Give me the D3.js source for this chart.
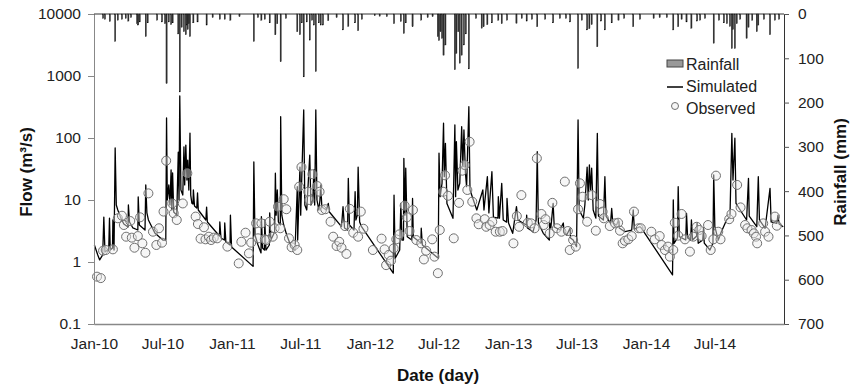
<!DOCTYPE html>
<html><head><meta charset="utf-8">
<script src="https://cdn.jsdelivr.net/npm/d3@7"></script>
<style>body{margin:0;background:#fff} text{font-family:"Liberation Sans",Arial,sans-serif}</style>
</head><body><svg id="c" width="857" height="387"></svg>
<script>
const xTickDates = ["2010-01-01","2010-07-01","2011-01-01","2011-07-01","2012-01-01","2012-07-01","2013-01-01","2013-07-01","2014-01-01","2014-07-01"];
const xTickLabels = ["Jan-10","Jul-10","Jan-11","Jul-11","Jan-12","Jul-12","Jan-13","Jul-13","Jan-14","Jul-14"];
const flowTicks = [0.1,1,10,100,1000,10000];
const rainTicks = [0,100,200,300,400,500,600,700];

const rainfall = [
["2010-01-25",10],["2010-01-30",12],["2010-02-12",17],["2010-02-26",62],["2010-03-05",14],["2010-03-16",12],["2010-03-26",10],["2010-04-02",16],["2010-04-09",8],["2010-04-25",22],["2010-04-28",25],["2010-05-02",18],["2010-05-18",51],["2010-05-23",20],["2010-06-17",14],["2010-06-30",18],["2010-07-08",22],["2010-07-12",157],["2010-07-18",18],["2010-07-24",24],["2010-07-28",20],["2010-08-12",45],["2010-08-16",176],["2010-08-21",30],["2010-08-27",40],["2010-09-01",47],["2010-09-04",25],["2010-09-06",35],["2010-09-09",22],["2010-09-12",51],["2010-09-21",20],["2010-10-02",18],["2010-10-26",25],["2010-11-11",8],["2010-11-30",12],["2010-12-13",12],["2010-12-28",14],
["2011-01-21",6],["2011-02-28",62],["2011-03-11",8],["2011-03-20",14],["2011-03-29",12],["2011-04-11",20],["2011-04-26",47],["2011-05-01",22],["2011-05-10",108],["2011-05-24",10],["2011-06-23",40],["2011-06-30",47],["2011-07-05",20],["2011-07-10",142],["2011-07-18",18],["2011-07-26",59],["2011-08-01",14],["2011-08-06",25],["2011-08-11",130],["2011-08-19",20],["2011-08-24",25],["2011-08-30",25],["2011-09-13",15],["2011-10-05",8],["2011-10-22",36],["2011-11-05",28],["2011-11-23",20],["2011-12-01",38],["2011-12-11",12],
["2012-01-14",4],["2012-01-27",5],["2012-02-15",6],["2012-03-05",22],["2012-03-23",17],["2012-03-31",44],["2012-04-05",20],["2012-04-23",29],["2012-05-16",14],["2012-06-02",8],["2012-06-15",6],["2012-06-29",51],["2012-07-02",60],["2012-07-06",40],["2012-07-10",55],["2012-07-14",93],["2012-07-19",70],["2012-08-13",126],["2012-08-17",89],["2012-08-22",40],["2012-08-26",111],["2012-08-31",93],["2012-09-06",70],["2012-09-11",45],["2012-09-19",124],["2012-10-08",10],["2012-10-23",32],["2012-10-28",29],["2012-11-07",24],["2012-11-19",20],["2012-12-06",14],["2012-12-15",22],["2012-12-29",14],
["2013-01-23",21],["2013-02-06",10],["2013-02-19",16],["2013-03-05",12],["2013-03-19",29],["2013-04-09",12],["2013-04-30",20],["2013-05-18",10],["2013-06-03",10],["2013-06-14",18],["2013-07-05",123],["2013-07-15",14],["2013-07-29",36],["2013-08-04",33],["2013-08-10",24],["2013-08-25",74],["2013-09-04",16],["2013-09-14",36],["2013-10-02",20],["2013-10-20",14],["2013-11-04",10],["2013-11-28",29],["2013-12-16",12],
["2014-01-21",10],["2014-02-06",8],["2014-02-25",8],["2014-03-14",36],["2014-03-27",29],["2014-04-05",12],["2014-04-18",18],["2014-05-01",32],["2014-05-16",16],["2014-05-24",14],["2014-06-06",10],["2014-06-29",66],["2014-07-13",14],["2014-07-26",20],["2014-08-03",22],["2014-08-11",28],["2014-08-16",78],["2014-08-19",35],["2014-08-24",78],["2014-08-29",22],["2014-09-07",12],["2014-09-24",55],["2014-09-29",30],["2014-10-09",14],["2014-10-21",40],["2014-10-25",25],["2014-11-09",12],["2014-11-25",47],["2014-12-08",14],["2014-12-19",12]
];

const simulated = [
["2010-01-02",1.88],["2010-01-11",1.30],["2010-01-16",1.08],["2010-01-24",1.30],["2010-01-27",5.3],["2010-01-30",1.45],["2010-02-09",1.62],["2010-02-11",5.1],["2010-02-13",1.56],["2010-02-19",1.68],["2010-02-20",4.76],["2010-02-23",1.56],["2010-02-26",69],["2010-03-01",8.3],["2010-03-05",6.9],["2010-03-13",5.1],["2010-03-21",4.1],["2010-04-01",3.67],["2010-04-02",8.3],["2010-04-05",4.42],["2010-04-14",3.54],["2010-04-27",3.28],["2010-04-28",11.2],["2010-05-01",3.95],["2010-05-16",3.28],["2010-05-18",17.5],["2010-05-21",6.2],["2010-05-25",4.76],["2010-06-11",2.94],["2010-07-02",2.26],["2010-07-10",2.26],["2010-07-12",210],["2010-07-14",10],["2010-07-18",17.5],["2010-07-21",8.3],["2010-07-24",30.5],["2010-07-26",6.9],["2010-07-28",27.3],["2010-07-31",6.4],["2010-08-08",5.7],["2010-08-12",59],["2010-08-14",10],["2010-08-16",476],["2010-08-19",14.5],["2010-08-24",12],["2010-08-27",72],["2010-08-29",17.5],["2010-09-01",77],["2010-09-04",21],["2010-09-06",44],["2010-09-09",14.5],["2010-09-12",120],["2010-09-14",12],["2010-09-17",8.9],["2010-09-20",8.6],["2010-09-21",14.5],["2010-09-24",8.0],["2010-09-30",7.4],["2010-10-02",13],["2010-10-04",6.9],["2010-10-24",4.76],["2010-10-26",7.7],["2010-10-28",4.42],["2010-11-29",2.63],["2010-11-30",4.42],["2010-12-03",2.44],["2010-12-12",2.26],["2010-12-13",4.26],["2010-12-16",2.1],["2010-12-27",1.88],["2010-12-28",5.7],["2010-12-31",1.75],
["2011-02-26",0.85],["2011-02-28",41],["2011-03-03",2.73],["2011-03-11",1.88],["2011-03-19",1.4],["2011-03-20",5.4],["2011-03-23",1.68],["2011-03-28",1.56],["2011-03-29",4.76],["2011-04-01",1.56],["2011-04-10",1.88],["2011-04-11",6.2],["2011-04-14",2.26],["2011-04-24",3.05],["2011-04-26",27],["2011-04-28",5.7],["2011-05-01",14.5],["2011-05-04",4.42],["2011-05-09",3.95],["2011-05-10",221],["2011-05-13",5.7],["2011-05-18",3.95],["2011-05-26",2.73],["2011-06-03",2.02],["2011-06-17",1.56],["2011-06-23",16.4],["2011-06-24",2.26],["2011-06-30",34],["2011-07-02",5.7],["2011-07-10",283],["2011-07-13",8.3],["2011-07-18",6.9],["2011-07-26",53],["2011-07-29",8.3],["2011-08-03",10],["2011-08-06",30.5],["2011-08-08",8.3],["2011-08-11",283],["2011-08-14",10],["2011-08-19",6.9],["2011-08-22",10],["2011-08-24",17.5],["2011-08-27",7.7],["2011-09-08",6.9],["2011-09-13",8.8],["2011-09-16",6.4],["2011-10-18",3.71],["2011-10-22",7.8],["2011-10-26",3.54],["2011-11-03",3.28],["2011-11-05",22.4],["2011-11-08",3.95],["2011-11-20",3.28],["2011-11-23",13.6],["2011-11-25",4.76],["2011-11-29",5.7],["2011-12-01",34],["2011-12-05",4.42],["2011-12-10",3.71],
["2012-03-03",0.66],["2012-03-05",12],["2012-03-08",1.15],["2012-03-20",1.56],["2012-03-23",8.8],["2012-03-26",2.26],["2012-03-30",2.26],["2012-03-31",47],["2012-04-03",5.7],["2012-04-05",32.5],["2012-04-09",2.56],["2012-04-21",2.26],["2012-04-23",10.6],["2012-04-25",2.53],["2012-05-15",2.02],["2012-05-16",3.5],["2012-05-19",1.88],["2012-06-30",1.15],["2012-07-02",57],["2012-07-05",11.3],["2012-07-10",18.6],["2012-07-14",173],["2012-07-16",23.8],["2012-07-19",82],["2012-07-23",8.8],["2012-08-08",5.07],["2012-08-13",162],["2012-08-15",11.3],["2012-08-17",87],["2012-08-21",14.5],["2012-08-26",18.6],["2012-08-31",152],["2012-09-03",34],["2012-09-06",135],["2012-09-10",27],["2012-09-13",16.4],["2012-09-19",320],["2012-09-22",14.5],["2012-10-10",6.9],["2012-10-26",14.5],["2012-10-29",6.9],["2012-11-07",23.8],["2012-11-11",6.2],["2012-11-19",28.6],["2012-11-23",5.3],["2012-12-05",5.1],["2012-12-06",11.3],["2012-12-09",5.1],["2012-12-15",18.6],["2012-12-19",4.76],["2012-12-28",4.4],["2012-12-29",10.6],
["2013-01-02",4.26],["2013-01-13",2.9],["2013-01-23",7.8],["2013-01-27",4.76],["2013-02-18",3.95],["2013-02-19",5.7],["2013-02-21",3.54],["2013-03-08",3.08],["2013-03-16",4.76],["2013-03-19",60],["2013-03-22",4.26],["2013-04-04",2.9],["2013-04-20",2.26],["2013-04-21",4.26],["2013-04-24",3.54],["2013-04-30",8.8],["2013-05-03",3.67],["2013-05-18",3.28],["2013-05-27",4.26],["2013-05-29",3.05],["2013-06-05",2.73],["2013-06-14",3.54],["2013-06-15",2.44],["2013-06-22",2.26],["2013-07-01",1.77],["2013-07-05",195],["2013-07-08",6.9],["2013-07-19",5.07],["2013-07-23",8.3],["2013-07-29",34],["2013-08-01",10],["2013-08-04",36.7],["2013-08-07",14.5],["2013-08-10",32.5],["2013-08-14",6.9],["2013-08-21",5.1],["2013-08-25",119],["2013-08-28",5.5],["2013-09-10",4.76],["2013-09-14",23.8],["2013-09-17",5.5],["2013-09-29",4.2],["2013-10-02",7.3],["2013-10-05",4.26],["2013-10-15",3.95],["2013-10-20",4.76],["2013-10-22",3.54],["2013-11-06",3.08],["2013-11-24",3.28],["2013-11-28",6.9],["2013-12-01",3.4],["2013-12-16",3.71],["2013-12-20",3.5],
["2014-03-12",0.62],["2014-03-14",10],["2014-03-16",2.0],["2014-03-25",2.44],["2014-03-27",16.4],["2014-03-30",2.56],["2014-04-16",2.26],["2014-04-18",6.1],["2014-04-21",2.44],["2014-04-29",2.26],["2014-05-01",4.76],["2014-05-04",2.26],["2014-05-15",2.63],["2014-05-16",4.26],["2014-05-19",2.0],["2014-05-31",2.26],["2014-06-02",3.54],["2014-06-04",2.02],["2014-06-19",1.56],["2014-06-27",2.0],["2014-06-29",25.3],["2014-07-02",3.71],["2014-07-11",2.26],["2014-07-19",3.05],["2014-08-02",4.76],["2014-08-11",5.4],["2014-08-16",119],["2014-08-19",21],["2014-08-24",99],["2014-08-27",8.8],["2014-09-07",6.9],["2014-09-24",4.76],["2014-09-29",22.4],["2014-10-01",5.5],["2014-10-21",3.71],["2014-10-25",23.8],["2014-10-28",4.76],["2014-11-12",3.5],["2014-11-25",15.4],["2014-11-28",4.42],["2014-12-13",4.2],["2014-12-16",5.7],["2014-12-19",4.1],["2014-12-30",3.71]
];

const observed = [
["2010-01-09",0.58],["2010-01-19",0.55],["2010-01-25",1.52],["2010-02-01",1.56],["2010-02-20",1.6],["2010-03-05",5.07],["2010-03-16",5.58],["2010-03-21",3.95],["2010-03-27",2.56],["2010-04-07",4.58],["2010-04-11",2.47],["2010-04-18",1.70],["2010-04-27",2.62],["2010-05-03",5.26],["2010-05-09",2.0],["2010-05-17",1.41],["2010-05-25",12.8],["2010-06-06",3.08],["2010-06-15",1.88],["2010-06-22",3.5],["2010-06-30",2.05],["2010-07-04",6.5],["2010-07-11",43],["2010-07-27",8.8],["2010-07-31",6.1],["2010-08-08",4.76],["2010-08-24",8.8],["2010-09-05",27],["2010-09-27",5.4],["2010-10-03",4.1],["2010-10-10",2.38],["2010-10-19",3.63],["2010-10-23",2.32],["2010-11-01",2.56],["2010-11-07",2.26],["2010-11-14",2.47],["2010-11-23",2.41],["2010-12-20",1.77],
["2011-01-19",0.95],["2011-01-26",2.12],["2011-02-06",2.97],["2011-02-15",1.38],["2011-02-21",2.05],["2011-03-06",4.2],["2011-03-11",2.41],["2011-03-20",4.2],["2011-03-29",2.32],["2011-04-02",2.26],["2011-04-11",4.47],["2011-04-19",2.56],["2011-04-24",3.5],["2011-05-03",7.8],["2011-05-09",3.5],["2011-05-18",10.3],["2011-05-25",7.1],["2011-06-01",2.41],["2011-06-08",1.73],["2011-06-16",1.88],["2011-06-23",1.56],["2011-06-28",16.4],["2011-07-04",34],["2011-07-22",13.6],["2011-07-25",10],["2011-08-02",26],["2011-08-15",16.8],["2011-08-21",13.6],["2011-08-27",6.9],["2011-09-05",7.1],["2011-09-19",4.47],["2011-09-26",2.56],["2011-10-05",1.81],["2011-10-12",2.12],["2011-10-18",1.70],["2011-10-27",3.8],["2011-10-31",1.35],["2011-11-09",7.2],["2011-11-18",2.97],["2011-12-01",2.56],["2011-12-08",6.5],["2011-12-15",3.44],
["2012-01-09",1.56],["2012-02-01",2.38],["2012-02-09",1.6],["2012-02-13",0.89],["2012-02-20",1.3],["2012-02-26",1.05],["2012-03-04",1.66],["2012-03-11",2.32],["2012-03-19",2.79],["2012-04-02",8.1],["2012-04-08",5.26],["2012-04-15",3.16],["2012-04-24",6.9],["2012-05-03",2.26],["2012-05-16",2.0],["2012-05-23",1.1],["2012-05-29",1.52],["2012-06-14",2.32],["2012-06-20",1.22],["2012-06-29",0.66],["2012-07-04",3.28],["2012-07-13",13.6],["2012-07-18",25],["2012-07-26",11.7],["2012-08-10",2.41],["2012-08-24",9],["2012-09-02",29.7],["2012-09-08",36.7],["2012-09-15",14.5],["2012-09-21",87],["2012-09-28",9.4],["2012-10-09",5.07],["2012-10-15",4.06],["2012-10-31",4.9],["2012-11-04",3.7],["2012-11-13",3.95],["2012-11-20",4.47],["2012-11-29",3.08],["2012-12-10",3.08],["2012-12-17",3.16],
["2013-01-15",2.0],["2013-01-24",5.5],["2013-01-30",3.7],["2013-02-05",12],["2013-02-22",4.3],["2013-03-03",4.2],["2013-03-12",3.5],["2013-03-18",47],["2013-03-30",5.95],["2013-04-05",3.95],["2013-04-10",4.9],["2013-04-21",2.9],["2013-04-28",9],["2013-05-10",3.5],["2013-05-22",3.08],["2013-05-31",19.8],["2013-06-08",3.16],["2013-06-13",1.56],["2013-06-22",2.26],["2013-06-29",1.77],["2013-07-05",7.1],["2013-07-10",18.6],["2013-07-17",11.3],["2013-07-29",4.47],["2013-08-10",12],["2013-08-21",3.2],["2013-09-01",8.6],["2013-09-08",6.5],["2013-09-11",5.07],["2013-09-27",3.8],["2013-10-11",4.2],["2013-10-19",4.3],["2013-10-24",3.2],["2013-10-31",2.0],["2013-11-06",2.2],["2013-11-15",2.32],["2013-11-24",2.62],["2013-11-30",6.5],["2013-12-12",3.5],["2013-12-18",3.5],
["2014-01-15",3.08],["2014-01-24",2.32],["2014-02-06",2.62],["2014-02-11",1.88],["2014-02-20",1.56],["2014-02-28",1.77],["2014-03-05",1.22],["2014-03-14",1.56],["2014-03-18",4.3],["2014-03-27",2.66],["2014-04-05",5.95],["2014-04-14",2.32],["2014-04-27",1.47],["2014-05-06",2.56],["2014-05-15",3.7],["2014-05-22",3.28],["2014-05-28",2.62],["2014-06-14",3.95],["2014-06-21",1.56],["2014-06-28",2.32],["2014-07-05",24.7],["2014-07-11",3.08],["2014-07-17",2.32],["2014-08-09",4.9],["2014-08-15",5.95],["2014-08-30",17.5],["2014-09-08",7.6],["2014-09-20",3.95],["2014-09-26",3.5],["2014-10-07",3.28],["2014-10-13",2.9],["2014-10-19",2.56],["2014-10-22",2.0],["2014-11-07",4.2],["2014-11-12",3.08],["2014-11-21",2.56],["2014-12-08",5.4],["2014-12-13",3.85]
];

const parse = d3.utcParse("%Y-%m-%d");
const L = 94, R = 784, T = 14, B = 324;
const svg = d3.select("#c");
const x = d3.scaleUtc().domain([parse("2010-01-01"), parse("2015-01-01")]).range([L, R]);
const yF = d3.scaleLog().domain([0.1, 10000]).range([B, T]);
const yR = d3.scaleLinear().domain([0, 700]).range([T, B]);

// rainfall bars hanging from top
svg.append("g").selectAll("rect").data(rainfall).join("rect")
  .attr("x", d => x(parse(d[0])) - 0.6)
  .attr("width", 1.2)
  .attr("y", yR(0))
  .attr("height", d => yR(d[1]) - yR(0))
  .attr("fill", "#333").attr("stroke", "#000").attr("stroke-width", 0.3);

// simulated line
svg.append("path").datum(simulated)
  .attr("fill", "none").attr("stroke", "#000").attr("stroke-width", 1.3)
  .attr("stroke-linejoin", "round")
  .attr("d", d3.line().x(d => x(parse(d[0]))).y(d => yF(d[1])));

// observed
svg.append("g").selectAll("circle").data(observed).join("circle")
  .attr("cx", d => x(parse(d[0]))).attr("cy", d => yF(d[1])).attr("r", 4.5)
  .attr("fill", "rgba(235,235,235,0.45)").attr("stroke", "#707070").attr("stroke-width", 1);

// axes
const fs = "15.5px";
const gL = svg.append("g").attr("transform", `translate(${L},0)`)
  .call(d3.axisLeft(yF).tickValues(flowTicks).tickFormat(d => String(d)).tickSize(6).tickPadding(7));
gL.select(".domain").attr("stroke", "#888");
gL.selectAll(".tick line").attr("stroke", "#888");
gL.selectAll("text").attr("font-size", fs).attr("fill", "#222").attr("font-family", "Liberation Sans, Arial, sans-serif");

const gR = svg.append("g").attr("transform", `translate(${R},0)`)
  .call(d3.axisRight(yR).tickValues(rainTicks).tickSize(5).tickPadding(9));
gR.select(".domain").attr("stroke", "#333");
gR.selectAll(".tick line").attr("stroke", "#555");
gR.selectAll("text").attr("font-size", fs).attr("fill", "#222").attr("font-family", "Liberation Sans, Arial, sans-serif");

const gB = svg.append("g").attr("transform", `translate(0,${B})`)
  .call(d3.axisBottom(x).tickValues(xTickDates.map(parse)).tickFormat((d, i) => xTickLabels[i]).tickSize(0).tickPadding(14));
gB.select(".domain").attr("stroke", "#888").attr("stroke-width", 1.5);
gB.selectAll("text").attr("font-size", fs).attr("fill", "#222").attr("font-family", "Liberation Sans, Arial, sans-serif");

// top baseline of rainfall
svg.append("line").attr("x1", L).attr("x2", R).attr("y1", T).attr("y2", T).attr("stroke", "#333").attr("stroke-width", 1);

// titles
svg.append("text").attr("transform", "translate(32,172) rotate(-90)").attr("text-anchor", "middle")
  .attr("font-size", "17px").attr("font-weight", "bold").attr("fill", "#111").text("Flow (m³/s)");
svg.append("text").attr("transform", "translate(846,172) rotate(-90)").attr("text-anchor", "middle")
  .attr("font-size", "17px").attr("font-weight", "bold").attr("fill", "#111").text("Rainfall (mm)");
svg.append("text").attr("x", 438).attr("y", 381).attr("text-anchor", "middle")
  .attr("font-size", "17px").attr("font-weight", "bold").attr("fill", "#111").text("Date (day)");

// legend
const lg = svg.append("g");
lg.append("rect").attr("x", 667).attr("y", 60).attr("width", 16).attr("height", 7).attr("fill", "#999").attr("stroke", "#444");
lg.append("text").attr("x", 686).attr("y", 70).attr("font-size", "16px").attr("fill", "#222").text("Rainfall");
lg.append("line").attr("x1", 667).attr("x2", 683).attr("y1", 87).attr("y2", 87).attr("stroke", "#000").attr("stroke-width", 1.5);
lg.append("text").attr("x", 686).attr("y", 92).attr("font-size", "16px").attr("fill", "#222").text("Simulated");
lg.append("circle").attr("cx", 675).attr("cy", 106).attr("r", 3.5).attr("fill", "rgba(235,235,235,0.45)").attr("stroke", "#707070");
lg.append("text").attr("x", 686).attr("y", 114).attr("font-size", "16px").attr("fill", "#222").text("Observed");
</script></body></html>
